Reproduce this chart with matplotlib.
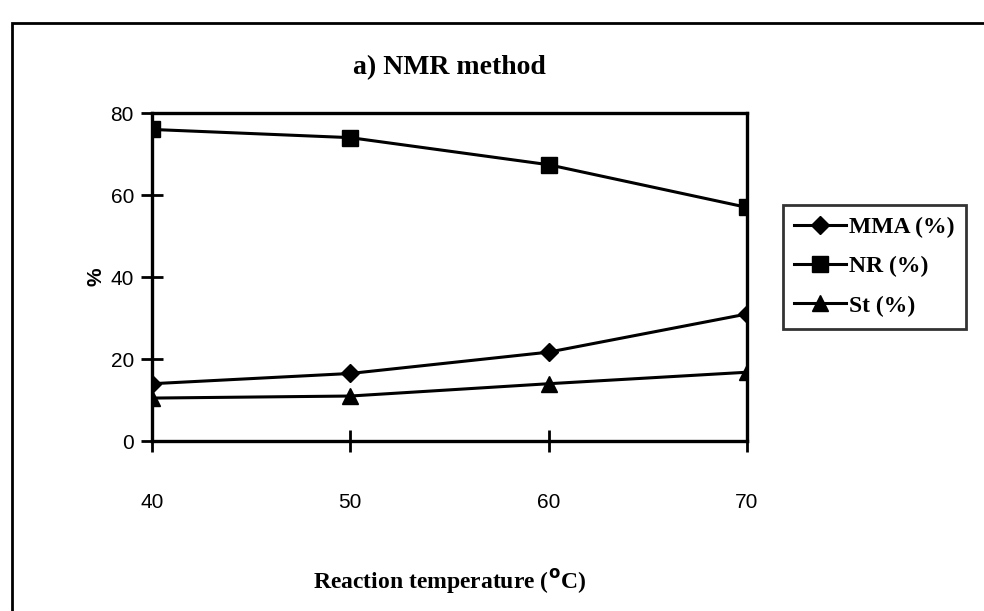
import matplotlib
matplotlib.use('Agg')
import matplotlib.pyplot as plt
from matplotlib.patches import Rectangle

temps = [40, 50, 60, 70]
mma = [14, 16.5, 21.7, 31]
nr = [76, 74, 67.4, 57]
st = [10.5, 11, 14, 16.8]
yticks = [0, 20, 40, 60, 80]

fig = plt.figure(figsize=(9.84, 6.11), dpi=100)
ax = fig.add_axes([0.1545, 0.278, 0.6045, 0.537])

ax.plot(temps, mma, 'k-', marker='D', markersize=9, linewidth=2.2, label='MMA (%)')
ax.plot(temps, nr, 'k-', marker='s', markersize=11, linewidth=2.2, label='NR (%)')
ax.plot(temps, st, 'k-', marker='^', markersize=11, linewidth=2.2, label='St (%)')

ax.set_xlim(40, 70)
ax.set_ylim(0, 80)
ax.set_xticks(temps)
ax.set_yticks(yticks)
for s in ax.spines.values():
    s.set_linewidth(2.4)
ax.tick_params(direction='inout', length=16, width=2, labelsize=15)
ax.tick_params(axis='x', pad=29)
ax.tick_params(axis='y', pad=5)
for lab in ax.get_xticklabels() + ax.get_yticklabels():
    lab.set_family('Liberation Sans')

ax.set_title('a) NMR method', family='Liberation Serif', fontweight='bold',
             fontsize=20, pad=28)
ax.set_xlabel('Reaction temperature ($^{\\mathbf{o}}$C)', family='Liberation Serif',
              fontweight='bold', fontsize=17, labelpad=40)
ax.set_ylabel('%', family='Liberation Sans', fontweight='bold', fontsize=15, labelpad=4)

leg = ax.legend(loc='upper left', bbox_to_anchor=(1.06, 0.72), frameon=True,
                fancybox=False, edgecolor='black', handlelength=2.2,
                borderpad=0.5, labelspacing=0.75, handletextpad=0.1,
                borderaxespad=0,
                prop={'family': 'Liberation Serif', 'weight': 'bold', 'size': 17})
leg.get_frame().set_linewidth(2)

# outer chart border (right side cut off in scan)
fig.patches.append(Rectangle((0.012, -0.05), 1.2, 1.012, transform=fig.transFigure,
                             fill=False, edgecolor='black', linewidth=2))

fig.savefig('out.png', dpi=100)
